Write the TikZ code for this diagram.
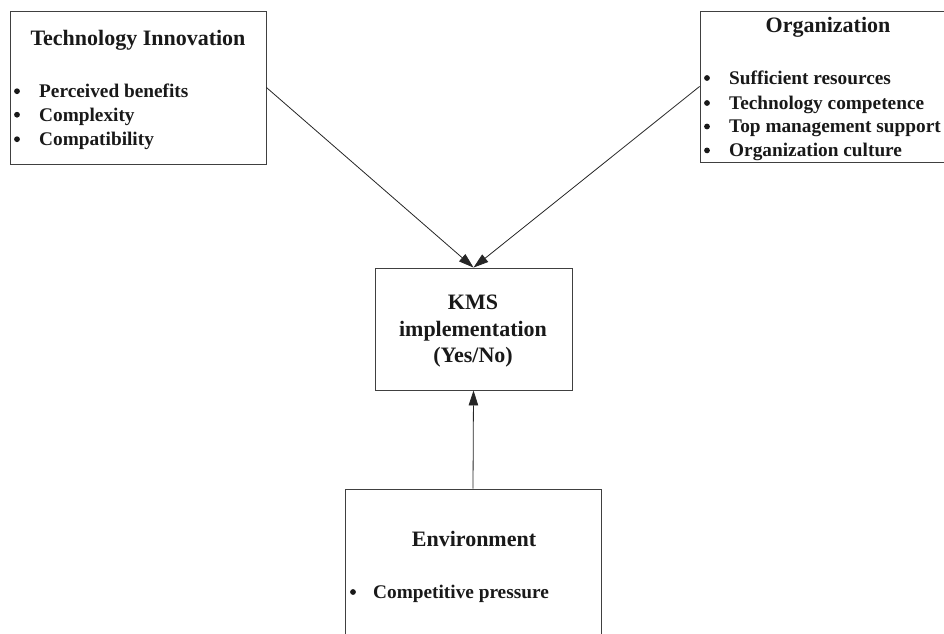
\documentclass[tikz,border=0pt]{standalone}
\usepackage{fontspec}
\setmainfont{Liberation Serif}
\usetikzlibrary{arrows.meta}
\begin{document}
\begin{tikzpicture}[x=1pt,y=-1pt,
  box/.style={draw=black!75,line width=0.9pt,rectangle,inner sep=0pt},
  ttl/.style={font=\fontsize{22}{26}\selectfont\bfseries,text=black!90,inner sep=0pt,anchor=base},
  lbl/.style={font=\fontsize{19.3}{24}\selectfont\bfseries,text=black!90,inner sep=0pt,anchor=base west},
  dot/.style={circle,fill=black!90,inner sep=0pt,minimum size=5.8pt},
  conn/.style={draw=black!85,line width=0.8pt,-{Triangle[length=15pt,width=9.5pt]}}]
\useasboundingbox (0,0) rectangle (944,633);
\clip (0,0) rectangle (944,633);
% boxes
\node[box,minimum width=256pt,minimum height=153pt] (tech) at (138,87.5) {};
\node[box,minimum width=246pt,minimum height=151pt] (org) at (823,86.5) {};
\node[box,minimum width=197pt,minimum height=122pt] (kms) at (473.5,329) {};
\node[box,minimum width=256pt,minimum height=171pt] (env) at (473,574.5) {};
% tech text
\node[ttl] (tt) at (138,45) {Technology Innovation};
\node[dot] (tb1) at (17,91.2) {};
\node[dot] (tb2) at (17,114.7) {};
\node[dot] (tb3) at (17,139.2) {};
\node[lbl] (tl1) at (39,97.5) {Perceived benefits};
\node[lbl] (tl2) at (39,121) {Complexity};
\node[lbl] (tl3) at (39,145.5) {Compatibility};
% org text
\node[ttl] (ot) at (828,32.3) {Organization};
\node[dot] (ob1) at (707,78) {};
\node[dot] (ob2) at (707,103) {};
\node[dot] (ob3) at (707,126.5) {};
\node[dot] (ob4) at (707,150.4) {};
\node[lbl] (ol1) at (729,84.3) {Sufficient resources};
\node[lbl] (ol2) at (729,109.3) {Technology competence};
\node[lbl] (ol3) at (729,132.8) {Top management support};
\node[lbl] (ol4) at (729,156.7) {Organization culture};
% kms text
\node[ttl] (k1) at (473,309.3) {KMS};
\node[ttl] (k2) at (473,336) {implementation};
\node[ttl] (k3) at (473,362) {(Yes/No)};
% env text
\node[ttl] (et) at (474,546.7) {Environment};
\node[dot] (eb1) at (353,592) {};
\node[lbl] (el1) at (373,598.3) {Competitive pressure};
% connectors
\draw[conn] (tech.east) -- (kms.north);
\draw[conn] (org.west) -- (kms.north);
\draw[conn] (env.north) -- (kms.south);
\end{tikzpicture}
\end{document}
